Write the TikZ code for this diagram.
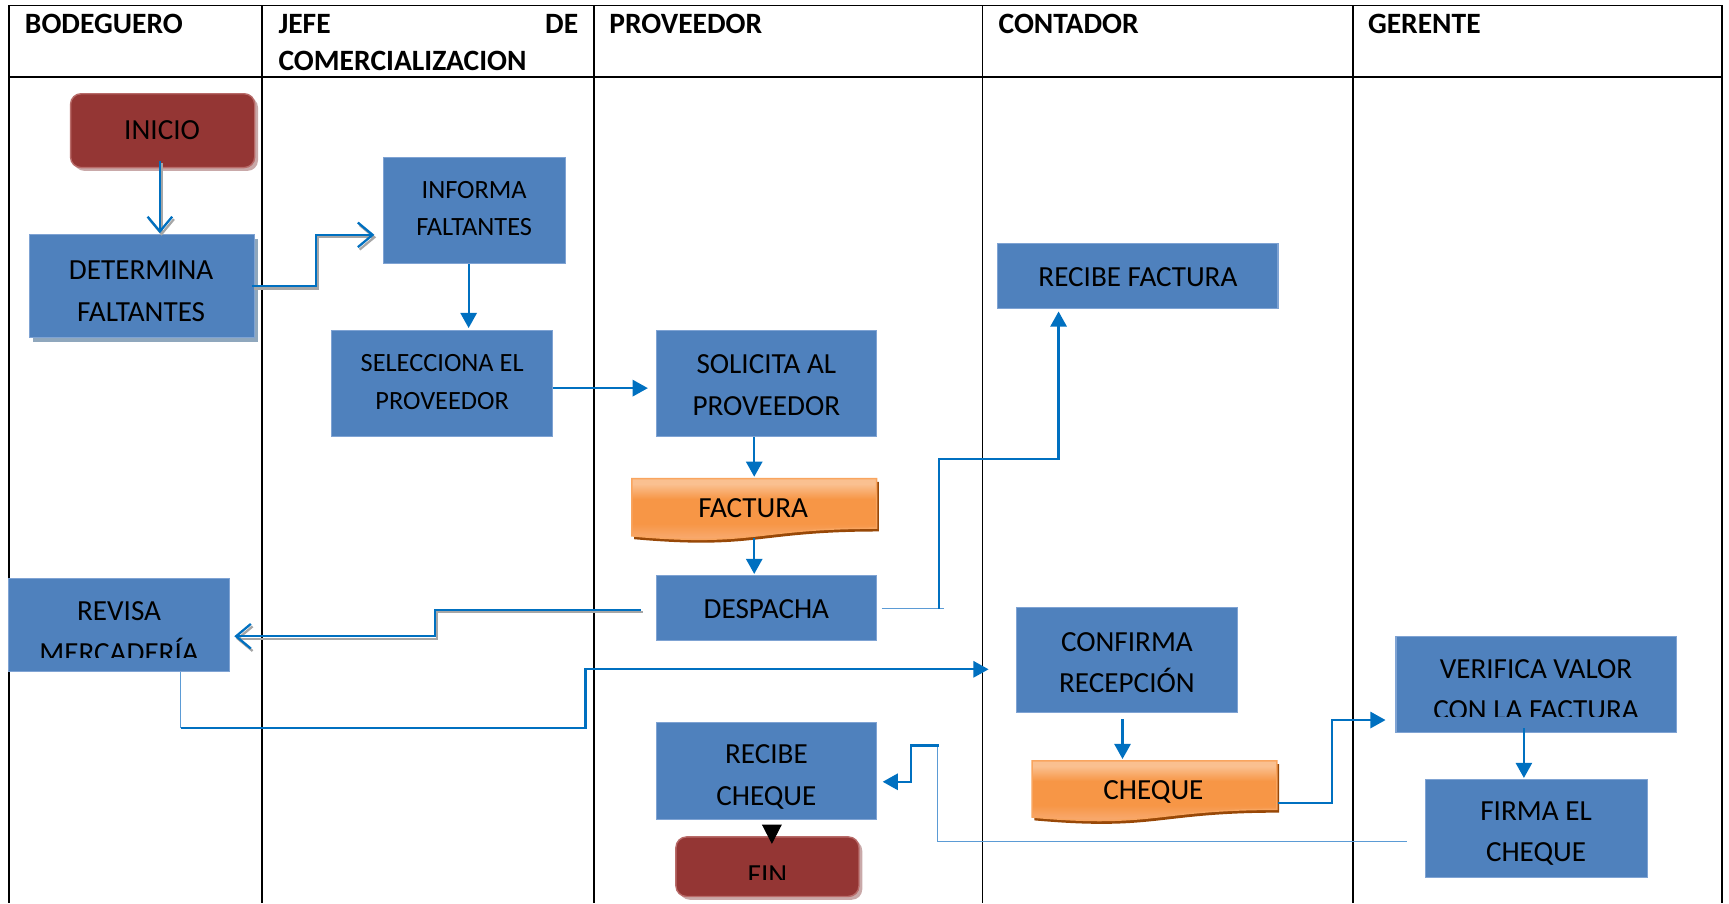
\documentclass[tikz,border=0pt]{standalone}
\usepackage{fontspec}
\setmainfont{Carlito}
\usetikzlibrary{arrows.meta,calc,fit}
\definecolor{boxblue}{HTML}{4F81BD}
\definecolor{boxedge}{HTML}{7FA3D3}
\definecolor{lineblue}{HTML}{0070C0}
\definecolor{thinblue}{HTML}{5B9BD5}
\definecolor{darkred}{HTML}{943634}
\definecolor{termedge}{HTML}{B86B69}
\definecolor{redshadow}{HTML}{C9A9A9}
\definecolor{blueshadow}{HTML}{8FA7BD}
\definecolor{orangemid}{HTML}{F79646}
\definecolor{orangelight}{HTML}{FAC090}
\definecolor{orangelow}{HTML}{F8A86C}
\definecolor{orangedark}{HTML}{984807}
\definecolor{orangeedge}{HTML}{F9A55F}
\definecolor{shadowgray}{HTML}{A6A6A6}
\pgfdeclareverticalshading{docshade}{100bp}{color(0bp)=(orangelow); color(25bp)=(orangelow); color(32bp)=(orangelow); color(42bp)=(orangemid); color(60bp)=(orangemid); color(71bp)=(orangelight); color(75bp)=(orangelight); color(100bp)=(orangelight)}
\begin{document}
\begin{tikzpicture}[x=0.011027cm,y=-0.011027cm,
  grid/.style={draw=black,line width=0.55pt},
  hdr/.style={font=\bfseries\fontsize{8.4}{10}\selectfont,inner sep=0pt,anchor=west},
  bx/.style={draw=boxedge,line width=0.3pt,fill=boxblue,inner sep=0pt},
  term/.style={draw=termedge,line width=0.4pt,fill=darkred,rounded corners=3pt,inner sep=0pt},
  ghost/.style={inner sep=0pt},
  txt/.style={font=\fontsize{8.3}{11.9}\selectfont,align=center,inner sep=0pt,text=black},
  txts/.style={font=\fontsize{7.5}{10.6}\selectfont,align=center,inner sep=0pt,text=black},
  conn/.style={draw=lineblue,line width=0.65pt},
  thinc/.style={draw=thinblue,line width=0.35pt},
  tri/.style={-{Triangle[length=4.3pt,width=4.6pt]}},
  barb/.style={-{Straight Barb[length=4.2pt,width=7pt,line width=0.65pt]}},
  shline/.style={draw=shadowgray,line width=0.65pt,transform canvas={xshift=0.5pt,yshift=-0.7pt}},
  docfill/.style={shading=docshade},
  docedge/.style={draw=orangeedge,line width=0.4pt}
]
\useasboundingbox (0,0) rectangle (1568,819);
\clip (0,0) rectangle (1568,819);

% ---------- table ----------
\draw[grid] (8,5) -- (1562,5);
\draw[grid] (8,70) -- (1562,70);
\foreach \x in {8,238,539,891,1227,1562} \draw[grid] (\x,5) -- (\x,819);

\node[hdr] (h1) at (22,22) {BODEGUERO};
\node[hdr] (h2a) at (252,22) {JEFE};
\node[hdr,anchor=east] (h2b) at (525,22) {DE};
\node[hdr] (h2c) at (252,55) {COMERCIALIZACION};
\node[hdr] (h3) at (552,22) {PROVEEDOR};
\node[hdr] (h4) at (905,22) {CONTADOR};
\node[hdr] (h5) at (1240,22) {GERENTE};

% ---------- shapes ----------
% INICIO
\fill[redshadow,rounded corners=3pt] (67,88) rectangle (234,155);
\node[term,fit={(64,85) (231,152)}] (ini) {};
\node[txt] (ini-t) at (147,118) {INICIO};

% DETERMINA FALTANTES
\fill[blueshadow] (30,217) rectangle (234,310);
\node[bx,fit={(27,213) (231,306)}] (det) {};
\node[txt] (det-t) at (128,264) {DETERMINA\\FALTANTES};

% INFORMA FALTANTES
\node[bx,fit={(348,143) (513,239)}] (inf) {};
\node[txts] (inf-t) at (430,189) {INFORMA\\FALTANTES};

% SELECCIONA EL PROVEEDOR
\node[bx,fit={(301,300) (501,396)}] (sel) {};
\node[txts] (sel-t) at (401,346.5) {SELECCIONA EL\\PROVEEDOR};

% SOLICITA AL PROVEEDOR
\node[bx,fit={(595,300) (795,396)}] (sol) {};
\node[txt] (sol-t) at (695,349.5) {SOLICITA AL\\PROVEEDOR};

% FACTURA (document)
\node[ghost,fit={(573,434) (795,487)}] (fac) {};
\fill[orangedark] (575,437) -- (797,437) -- (797,482) .. controls (686,482) and (686,499) .. (575,489) -- cycle;
\shade[docfill] (573,434) -- (795,434) -- (795,479) .. controls (684,479) and (684,496) .. (573,486) -- cycle;
\draw[docedge] (573,434) -- (795,434) -- (795,479) .. controls (684,479) and (684,496) .. (573,486) -- cycle;
\node[txt] (fac-t) at (683,461) {FACTURA};

% DESPACHA
\node[bx,fit={(595,522) (795,581)}] (des) {};
\node[txt] (des-t) at (695,552) {DESPACHA};

% RECIBE FACTURA
\node[bx,fit={(905,221) (1159,280)}] (rf) {};
\node[txt] (rf-t) at (1032,251) {RECIBE FACTURA};

% REVISA MERCADERIA
\node[bx,fit={(8,525) (208,609)}] (rev) {};
\begin{scope}
  \clip (8,525) rectangle (208,596);
  \node[txt] (rev-t) at (108,573) {REVISA\\MERCADERÍA};
\end{scope}

% CONFIRMA RECEPCION
\node[bx,fit={(922,551) (1122,646)}] (con) {};
\node[txt] (con-t) at (1022,601) {CONFIRMA\\RECEPCIÓN};

% CHEQUE (document)
\node[ghost,fit={(936,690) (1158,740)}] (chq) {};
\fill[orangedark] (938,693) -- (1160,693) -- (1160,737) .. controls (1049,737) and (1049,754) .. (938,744) -- cycle;
\shade[docfill] (936,690) -- (1158,690) -- (1158,734) .. controls (1047,734) and (1047,751) .. (936,741) -- cycle;
\draw[docedge] (936,690) -- (1158,690) -- (1158,734) .. controls (1047,734) and (1047,751) .. (936,741) -- cycle;
\node[txt] (chq-t) at (1046,718) {CHEQUE};

% VERIFICA VALOR CON LA FACTURA
\node[bx,fit={(1266,577) (1520,664)}] (ver) {};
\begin{scope}
  \clip (1266,577) rectangle (1520,650);
  \node[txt] (ver-t) at (1393,625.5) {VERIFICA VALOR\\CON LA FACTURA};
\end{scope}

% FIRMA EL CHEQUE
\node[bx,fit={(1293,707) (1494,796)}] (fir) {};
\node[txt] (fir-t) at (1393,756) {FIRMA EL\\CHEQUE};

% RECIBE CHEQUE
\node[bx,fit={(595,655) (795,743)}] (rc) {};
\node[txt] (rc-t) at (695,704.5) {RECIBE\\CHEQUE};

% FIN
\fill[redshadow,rounded corners=3pt] (616,762) rectangle (782,816);
\node[term,fit={(613,759) (779,813)}] (fin) {};
\begin{scope}
  \clip (613,759) rectangle (779,798);
  \node[txt] (fin-t) at (696,794) {FIN};
\end{scope}

% ---------- connectors ----------
% INICIO -> DETERMINA
\draw[shline,barb] ($(ini.south)+(-2.5,-7)$) -- ($(det.north)+(16,-1)$);
\draw[conn,barb] ($(ini.south)+(-2.5,-7)$) -- ($(det.north)+(16,-1)$);

% DETERMINA -> INFORMA
\draw[shline,barb] ($(det.east)+(-3,0)$) -- ++(58,0) |- ($(inf.west)+(-8,22)$);
\draw[conn,barb] ($(det.east)+(-3,0)$) -- ++(58,0) |- ($(inf.west)+(-8,22)$);

% INFORMA -> SELECCIONA
\draw[conn,tri] ($(inf.south)+(-5.5,0)$) -- ($(sel.north)+(24,-2)$);

% SELECCIONA -> SOLICITA
\draw[conn,tri] ($(sel.east)+(0,4)$) -- ($(sol.west)+(-7,4)$);

% SOLICITA -> FACTURA
\draw[conn,tri] ($(sol.south)+(-11,0)$) -- ($(fac.north)+(0,-1)$);

% FACTURA -> DESPACHA
\draw[conn,tri] (fac.south) -- ($(des.north)+(-11,-1)$);

% DESPACHA -> RECIBE FACTURA
\draw[thinc] ($(des.east)+(4,0.5)$) -- ++(57,0);
\draw[conn,tri] ($(des.east)+(56,0.5)$) -- ++(0,-136) -| ($(rf.south)+(-72,2)$);

% DESPACHA -> REVISA MERCADERIA
\draw[shline,barb] ($(des.west)+(-13,1.5)$) -- ++(-187,0) |- ($(rev.east)+(4,10)$);
\draw[conn,barb] ($(des.west)+(-13,1.5)$) -- ++(-187,0) |- ($(rev.east)+(4,10)$);

% REVISA MERCADERIA -> CONFIRMA
\draw[thinc] ($(rev.south)+(56,0)$) -- ++(0,51);
\draw[conn,tri] ($(rev.south)+(56,51)$) -- ++(367,0) |- ($(con.west)+(-25,8.5)$);

% CONFIRMA -> CHEQUE
\draw[conn,tri] ($(con.south)+(-4,6)$) -- ($(chq.north)+(-29,-1)$);

% CHEQUE -> VERIFICA
\draw[conn,tri] ($(chq.east)+(0,13)$) -- ++(49,0) |- ($(ver.west)+(-9,32.5)$);

% VERIFICA -> FIRMA
\draw[conn,tri] ($(ver.south)+(-11,-4)$) -- ($(fir.north)+(-11.5,-1)$);

% FIRMA -> RECIBE CHEQUE
\draw[thinc] ($(fir.west)+(-17,11.5)$) -| ++(-425,-87);
\draw[conn,tri] ($(rc.east)+(56,-23)$) -- ++(-25,0) |- ($(rc.east)+(5,10)$);

% RECIBE CHEQUE -> FIN
\draw[black,line width=0.3pt,-{Triangle[length=5.5pt,width=5.6pt]}] ($(rc.south)+(5,5)$) -- ($(fin.north)+(4,7)$);
\end{tikzpicture}
\end{document}
